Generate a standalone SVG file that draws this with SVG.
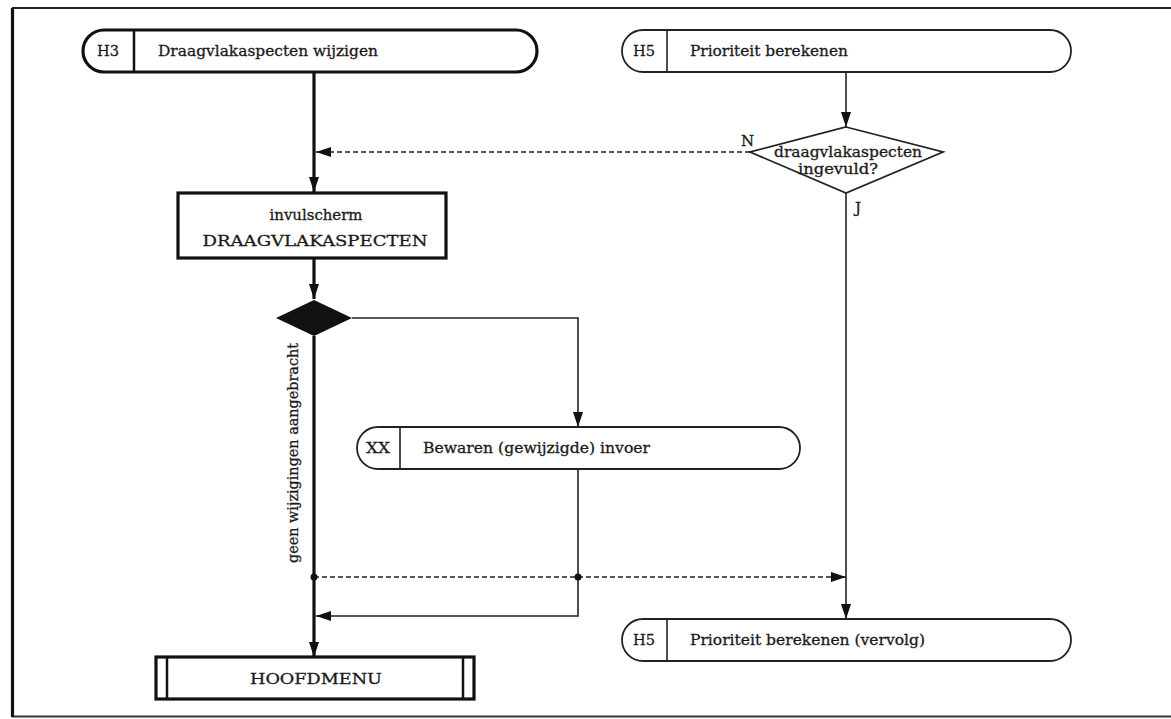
<svg xmlns="http://www.w3.org/2000/svg" width="1171" height="719" viewBox="0 0 1171 719">
<style>
  .t{font-family:"DejaVu Serif","Liberation Serif",serif;font-size:15px;fill:#1a1a1a;stroke:#1a1a1a;stroke-width:0.3}
  .thin{fill:none;stroke:#222;stroke-width:1.6}
  .thick{fill:none;stroke:#111;stroke-width:3.2}
  .shape{fill:#fff;stroke:#222;stroke-width:1.8}
  .shapeB{fill:#fff;stroke:#111;stroke-width:3.2}
  .dash{fill:none;stroke:#222;stroke-width:1.6;stroke-dasharray:5 3}
</style>
<defs>
  <marker id="ah" markerUnits="userSpaceOnUse" viewBox="0 0 15 10" refX="15" refY="5" markerWidth="15" markerHeight="10" orient="auto">
    <path d="M0,0 L15,5 L0,10 z" fill="#111"/>
  </marker>
</defs>
<rect width="1171" height="719" fill="#fff"/>
<g id="frame">
  <line x1="12" y1="8" x2="1171" y2="8" stroke="#222" stroke-width="2"/>
  <line x1="12" y1="716.5" x2="1171" y2="716.5" stroke="#333" stroke-width="2"/>
  <line x1="12.5" y1="8" x2="12.5" y2="717" stroke="#111" stroke-width="3.2"/>
</g>
<g id="connectors">
  <path class="thick" d="M314,72 V192" marker-end="url(#ah)"/>
  <path class="thin" d="M846,72 V127" marker-end="url(#ah)"/>
  <path class="dash" d="M750,152 H316" marker-end="url(#ah)"/>
  <path class="thick" d="M314,258 V299" marker-end="url(#ah)"/>
  <path class="thin" d="M352,318 H578 V427" marker-end="url(#ah)"/>
  <path class="thick" d="M314,336 V657" marker-end="url(#ah)"/>
  <path class="thin" d="M578,469 V616 H316" marker-end="url(#ah)"/>
  <path class="thin" d="M846,193 V619" marker-end="url(#ah)"/>
  <path class="dash" d="M314,577 H846" marker-end="url(#ah)"/>
  <circle cx="314" cy="577" r="3.5" fill="#111"/>
  <circle cx="578" cy="577" r="3.5" fill="#111"/>
  <text class="t" transform="translate(298,453) rotate(-90)" text-anchor="middle" textLength="220" lengthAdjust="spacingAndGlyphs" font-size="13">geen wijzigingen aangebracht</text>
  <text class="t" x="741" y="146" font-size="13">N</text>
  <text class="t" x="855" y="213" font-size="13">J</text>
</g>
<g id="h3">
  <rect class="shapeB" x="83" y="30" width="454" height="42" rx="21"/>
  <line x1="134" y1="30" x2="134" y2="72" stroke="#111" stroke-width="2.5"/>
  <text class="t" x="108" y="56" text-anchor="middle" textLength="22" lengthAdjust="spacingAndGlyphs">H3</text>
  <text class="t" x="158" y="56" textLength="220" lengthAdjust="spacingAndGlyphs">Draagvlakaspecten wijzigen</text>
</g>
<g id="h5top">
  <rect class="shape" x="622" y="30" width="449" height="42" rx="21"/>
  <line x1="667" y1="30" x2="667" y2="72" stroke="#222" stroke-width="1.6"/>
  <text class="t" x="644" y="56" text-anchor="middle" textLength="22" lengthAdjust="spacingAndGlyphs">H5</text>
  <text class="t" x="690" y="56" textLength="158" lengthAdjust="spacingAndGlyphs">Prioriteit berekenen</text>
</g>
<g id="decision">
  <polygon class="shape" points="846,127 943,152 846,193 750,152"/>
  <text class="t" x="848" y="157" text-anchor="middle" textLength="148" lengthAdjust="spacingAndGlyphs" font-size="13">draagvlakaspecten</text>
  <text class="t" x="838" y="174" text-anchor="middle" textLength="80" lengthAdjust="spacingAndGlyphs" font-size="13">ingevuld?</text>
</g>
<g id="screen">
  <rect class="shapeB" x="178" y="193" width="268" height="65"/>
  <text class="t" x="316" y="220" text-anchor="middle" textLength="93" lengthAdjust="spacingAndGlyphs">invulscherm</text>
  <text class="t" x="315" y="246" text-anchor="middle" textLength="225" lengthAdjust="spacingAndGlyphs">DRAAGVLAKASPECTEN</text>
</g>
<g id="choice">
  <polygon points="314,300 352,318 314,336 276,318" fill="#111"/>
</g>
<g id="xx">
  <rect class="shape" x="357" y="427" width="443" height="42" rx="21"/>
  <line x1="400" y1="427" x2="400" y2="469" stroke="#222" stroke-width="1.6"/>
  <text class="t" x="378" y="453" text-anchor="middle" textLength="24" lengthAdjust="spacingAndGlyphs">XX</text>
  <text class="t" x="423" y="453" textLength="227" lengthAdjust="spacingAndGlyphs">Bewaren (gewijzigde) invoer</text>
</g>
<g id="h5bottom">
  <rect class="shape" x="622" y="619" width="449" height="42" rx="21"/>
  <line x1="667" y1="619" x2="667" y2="661" stroke="#222" stroke-width="1.6"/>
  <text class="t" x="644" y="645" text-anchor="middle" textLength="22" lengthAdjust="spacingAndGlyphs">H5</text>
  <text class="t" x="690" y="645" textLength="235" lengthAdjust="spacingAndGlyphs">Prioriteit berekenen (vervolg)</text>
</g>
<g id="hoofdmenu">
  <rect class="shapeB" x="156" y="657" width="318" height="42"/>
  <line x1="167" y1="657" x2="167" y2="699" stroke="#111" stroke-width="2.5"/>
  <line x1="463" y1="657" x2="463" y2="699" stroke="#111" stroke-width="2.5"/>
  <text class="t" x="316" y="684" text-anchor="middle" textLength="132" lengthAdjust="spacingAndGlyphs">HOOFDMENU</text>
</g>
</svg>
